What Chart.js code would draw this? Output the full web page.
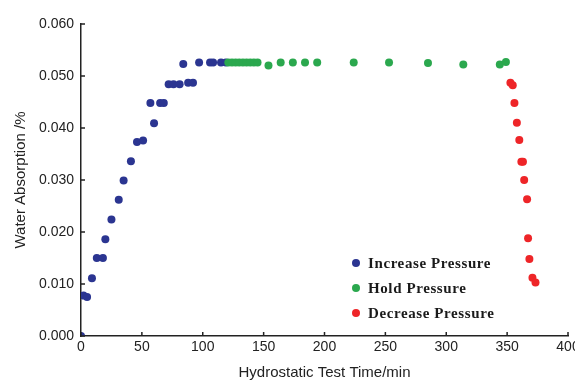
<!DOCTYPE html>
<html>
<head>
<meta charset="utf-8">
<script src="https://cdn.jsdelivr.net/npm/chart.js@4/dist/chart.umd.min.js"></script>
<style>
html, body { margin: 0; padding: 0; background: #fff; }
canvas { display: block; }
</style>
</head>
<body>
<canvas id="chart" width="575" height="382"></canvas>
<script>
// values
var increaseTime = [0, 2, 5, 9, 13, 18, 20, 25, 31, 35, 41, 46, 51, 57, 60, 65, 68, 72, 76, 81, 84, 88, 92, 97, 106, 108.5, 115, 119];
var increaseAbs = [0.0000, 0.0078, 0.0075, 0.0111, 0.0150, 0.0150, 0.0186, 0.0224, 0.0262, 0.0299, 0.0336, 0.0373, 0.0376, 0.0448, 0.0409, 0.0448, 0.0448, 0.0484, 0.0484, 0.0484, 0.0523, 0.0487, 0.0487, 0.0526, 0.0526, 0.0526, 0.0526, 0.0526];

var holdTime = [121, 124, 127, 130, 133, 136, 139, 142, 145, 154, 164, 174, 184, 194, 224, 253, 285, 314, 344, 349];
var holdAbs = [0.0526, 0.0526, 0.0526, 0.0526, 0.0526, 0.0526, 0.0526, 0.0526, 0.0526, 0.0520, 0.0526, 0.0526, 0.0526, 0.0526, 0.0526, 0.0526, 0.0525, 0.0522, 0.0522, 0.0527];

var decreaseTime = [352.7, 354.6, 356, 358, 360, 361.7, 363, 364, 366.4, 367.2, 368.3, 370.8, 373.3];
var decreaseAbs = [0.0487, 0.0482, 0.0448, 0.0410, 0.0377, 0.0335, 0.0335, 0.0300, 0.0263, 0.0188, 0.0148, 0.0112, 0.0103];

var seriesNames = ['Increase Pressure', 'Hold Pressure', 'Decrease Pressure'];
var seriesColors = ['#2b3591', '#2ba84e', '#ee2528'];

var xTicks = [0, 50, 100, 150, 200, 250, 300, 350, 400];
var yTicks = [0, 0.01, 0.02, 0.03, 0.04, 0.05, 0.06];

function toPoints(xs, ys) {
    var pts = [];
    for (var i = 0; i < xs.length; i++) {
        pts.push({ x: xs[i], y: ys[i] });
    }
    return pts;
}

var axisColor = '#222';

// ticks drawn on the inside of the axes
var innerTicks = {
    id: 'innerTicks',
    afterDraw: function(chart) {
        var ctx = chart.ctx;
        var xs = chart.scales.x, ys = chart.scales.y;
        ctx.save();
        ctx.strokeStyle = axisColor;
        ctx.lineWidth = 1.5;
        ctx.beginPath();
        for (var i = 0; i < xTicks.length; i++) {
            var px = xs.getPixelForValue(xTicks[i]);
            ctx.moveTo(px, ys.bottom);
            ctx.lineTo(px, ys.bottom - 4);
        }
        for (var j = 0; j < yTicks.length; j++) {
            var py = ys.getPixelForValue(yTicks[j]);
            ctx.moveTo(xs.left, py);
            ctx.lineTo(xs.left + 4, py);
        }
        ctx.stroke();
        ctx.restore();
    }
};

// legend inside the plot, lower right
var boxLegend = {
    id: 'boxLegend',
    afterDraw: function(chart) {
        var ctx = chart.ctx;
        ctx.save();
        ctx.font = 'bold 15px "Liberation Serif", serif';
        ctx.letterSpacing = '0.6px';
        ctx.textBaseline = 'middle';
        for (var i = 0; i < seriesNames.length; i++) {
            var y = 263 + i * 25;
            ctx.fillStyle = seriesColors[i];
            ctx.beginPath();
            ctx.arc(356, y, 4, 0, Math.PI * 2);
            ctx.fill();
            ctx.fillStyle = '#1a1a1a';
            ctx.fillText(seriesNames[i], 368, y + 1);
        }
        ctx.restore();
    }
};

var datasets = [];
var xsList = [increaseTime, holdTime, decreaseTime];
var ysList = [increaseAbs, holdAbs, decreaseAbs];
for (var k = 0; k < seriesNames.length; k++) {
    datasets.push({
        label: seriesNames[k],
        data: toPoints(xsList[k], ysList[k]),
        backgroundColor: seriesColors[k],
        borderColor: seriesColors[k],
        borderWidth: 0,
        pointRadius: 4,
        order: k == 1 ? 0 : 1
    });
}

new Chart(document.getElementById('chart').getContext('2d'), {
    type: 'scatter',
    data: { datasets: datasets },
    options: {
        responsive: false,
        animation: false,
        devicePixelRatio: 1,
        layout: { autoPadding: false, padding: { top: 24, right: 7, left: 0, bottom: 0 } },
        plugins: { legend: { display: false }, tooltip: { enabled: false } },
        scales: {
            x: {
                type: 'linear',
                min: 0,
                max: 400,
                afterFit: function(s) { s.height = 46; s.paddingLeft = 0; s.paddingRight = 0; },
                afterBuildTicks: function(s) { s.ticks = xTicks.map(function(v) { return { value: v }; }); },
                grid: { display: false, drawTicks: false },
                border: { display: true, color: axisColor, width: 1.5 },
                ticks: {
                    padding: 3,
                    color: axisColor,
                    font: { family: '"Liberation Sans", Arial, sans-serif', size: 14 },
                    maxRotation: 0
                },
                title: {
                    display: true,
                    text: 'Hydrostatic Test Time/min',
                    color: axisColor,
                    padding: { top: -5, bottom: 0 },
                    font: { family: '"Liberation Sans", Arial, sans-serif', size: 15 }
                }
            },
            y: {
                min: 0,
                max: 0.06,
                afterFit: function(s) { s.width = 81; s.paddingTop = 0; s.paddingBottom = 0; },
                afterBuildTicks: function(s) { s.ticks = yTicks.map(function(v) { return { value: v }; }); },
                grid: { display: false, drawTicks: false },
                border: { display: true, color: axisColor, width: 1.5 },
                ticks: {
                    padding: 7,
                    color: axisColor,
                    font: { family: '"Liberation Sans", Arial, sans-serif', size: 14 },
                    callback: function(v) { return v.toFixed(3); }
                },
                title: {
                    display: true,
                    text: 'Water Absorption /%',
                    color: axisColor,
                    padding: { top: 12, bottom: 0 },
                    font: { family: '"Liberation Sans", Arial, sans-serif', size: 15 }
                }
            }
        }
    },
    plugins: [innerTicks, boxLegend]
});
</script>
</body>
</html>
